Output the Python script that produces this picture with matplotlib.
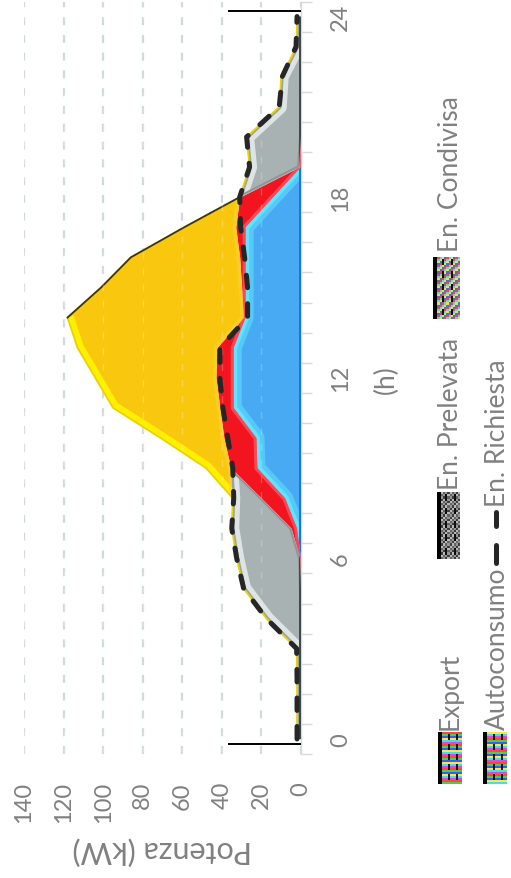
import numpy as np
import matplotlib
matplotlib.use("Agg")
import matplotlib.pyplot as plt

# ---- hourly profile (kW) ----
hours = list(range(25))
autoconsumo = [0, 0, 0, 0, 0, 0, 0, 2, 8, 22, 22.5, 34, 34, 34, 28, 28, 28, 28, 14, 0, 0, 0, 0, 0, 0]
condivisa = [0, 0, 0, 0, 0, 0, 0.5, 3, 12, 13.5, 16.5, 7, 9, 8.5, 1, 2, 3, 5, 17, 1, 0, 0, 0, 0, 0]
prelevata = [2, 2, 2, 2.2, 17.5, 29, 32, 30, 14.5, 0, 0, 0, 0, 0, 0, 0, 0, 0, 0, 25, 27.5, 11, 10, 2.2, 2]
export = [0, 0, 0, 0, 0, 0, 0, 0, 0, 12.5, 32, 54, 61, 70.5, 89, 71, 55, 26, 0, 0, 0, 0, 0, 0, 0]
richiesta = [2, 2, 2, 2.2, 17.5, 29, 32.5, 35, 34, 34.5, 37, 39.5, 41, 41, 27, 27, 28.5, 30.5, 31, 26, 27.5, 11, 9.5, 2.5, 2]

kw_ticks = [0, 20, 40, 60, 80, 100, 120, 140]
hour_ticks = [0, 6, 12, 18, 24]
legend_labels = ["Export", "En. Prelevata", "En. Condivisa", "Autoconsumo", "En. Richiesta"]

plt.rcParams['font.family'] = ['Lato', 'DejaVu Sans']
TXT = '#808080'

YELLOW = '#F9C80E'
YELLOW_HI = '#FFF000'
BLUE = '#48AAF2'
CYAN = '#62E4FF'
RED = '#F2141E'
GRAY = '#A9B2B2'

W, H = 511, 879
fig = plt.figure(figsize=(W / 100, H / 100), dpi=100)
fig.patch.set_facecolor('white')

ax = fig.add_axes([24 / W, 1 - 755 / H, (301 - 24) / W, (755 - 2.5) / H])
ax.set_xlim(140, 0)
ax.set_ylim(-0.5, 24.5)

h = np.array(hours, dtype=float)
b1 = np.array(autoconsumo, dtype=float)
b2 = b1 + np.array(condivisa)
b3 = b2 + np.array(prelevata)
b4 = b3 + np.array(export)

# stacked layers (kW grows to the left, hours run upward)
blue = ax.fill_betweenx(h, 0, b1, color=BLUE, lw=0, zorder=2)
red = ax.fill_betweenx(h, b1, b2, color=RED, lw=0, zorder=2)
gray = ax.fill_betweenx(h, b2, b3, color=GRAY, lw=0, zorder=2)
yellow = ax.fill_betweenx(h, b3, b4, color=YELLOW, lw=0, zorder=2)


def px(p):
    return p * 72 / 100


def bevel(xs, ys, coll, color, width, alpha=1.0, z=3):
    ln, = ax.plot(xs, ys, color=color, lw=px(width), alpha=alpha,
                  solid_capstyle='butt', solid_joinstyle='round', zorder=z)
    ln.set_clip_path(coll.get_paths()[0], ax.transData)


# bevel highlights inside each layer
bevel(b1, h, blue, CYAN, 16, alpha=0.55)
bevel(b1, h, blue, CYAN, 7)
bevel([0, 0], [-1, 25], blue, '#1F74D8', 5)
bevel(b1, h, red, '#FF5F72', 6, alpha=0.7)
bevel(b3, h, gray, '#E4EAEA', 15, alpha=0.9)
bevel(b3, h, gray, '#9AA3A3', 5)
bevel(b2, h, gray, '#8E9797', 4)
bevel([0, 0], [-1, 25], gray, '#3E4A4C', 5)
bevel(b4[8:15], h[8:15], yellow, YELLOW_HI, 13)
bevel(b3, h, yellow, '#FBD23A', 6, alpha=0.6)

# outline of the export layer
ax.plot(b4, h, color='#EDD000', lw=1.3, zorder=4)
ax.plot(b4[14:19], h[14:19], color='#3A3512', lw=1.3, zorder=4)

# faint grid showing through the fills
ax.vlines(kw_ticks[1:], -0.5, 24.5, colors='white', alpha=0.22, lw=1.0,
          linestyles=(0, (5, 6.5)), zorder=5)

# demand line
ax.plot(richiesta, h, color='#262626', lw=3.6, dashes=(2.5, 3.2),
        dash_capstyle='round', zorder=10)

# day boundary markers
ax.hlines([-0.17, 24.17], 0, 37, colors='black', lw=1.4, zorder=9)

# grid, spines, ticks
ax.set_axisbelow(True)
ax.set_xticks(kw_ticks)
ax.grid(axis='x', color='#CFDADB', lw=1.6, linestyle=(0, (3.6, 4.4)), zorder=0)
for s in ('left', 'top', 'bottom'):
    ax.spines[s].set_visible(False)
ax.spines['right'].set_color('#D9D9D9')
ax.spines['right'].set_linewidth(1.0)

ax.yaxis.tick_right()
ax.set_yticks(hour_ticks)
ax.set_yticks(np.arange(-0.5, 25, 1), minor=True)
ax.tick_params(axis='y', which='major', length=0, pad=21, labelsize=17,
               labelcolor=TXT, labelrotation=90)
ax.tick_params(axis='y', which='minor', length=8, width=1, color='#D9D9D9')
ax.tick_params(axis='x', which='both', length=0, pad=19.5, labelsize=17,
               labelcolor=TXT, labelrotation=90)
ax.set_yticklabels([str(v) for v in hour_ticks])
ax.set_xticklabels([str(v) for v in kw_ticks])
for t in ax.get_yticklabels():
    t.set_ha('left')
    t.set_va('center')

# overlay in pixel coordinates for titles and legend
lay = fig.add_axes([0, 0, 1, 1], zorder=20)
lay.set_xlim(0, W)
lay.set_ylim(H, 0)
lay.axis('off')

lay.text(162, 851, "Potenza (kW)", rotation=180, ha='center', va='center',
         fontsize=22, color=TXT)
lay.text(386, 380, "(h)", rotation=90, ha='center', va='center',
         fontsize=19, color=TXT)

# legend swatches (textured picture fills)
rainbow = np.array([[255, 70, 60], [70, 210, 70], [60, 90, 255],
                    [255, 230, 60], [60, 225, 235], [225, 70, 225]]) / 255.0


def stripes(rows, cols, shift):
    img = np.zeros((rows, cols, 3))
    for r in range(rows):
        img[r, :] = rainbow[(r + shift) % 6]
    img[:, :2] = 0
    for c in (5, 9):
        for r in range(rows):
            if r % 5 in (1, 2, 3):
                img[r, c] *= 0.15
    return img


def diagonal(rows, cols, base, dark):
    img = np.zeros((rows, cols, 3))
    for r in range(rows):
        for c in range(cols):
            k = (r + c) % 4
            img[r, c] = base[k]
    img[:, :2] = 0
    for c in (4, 8):
        for r in range(rows):
            if r % 6 in (1, 2, 3) and dark:
                img[r, c] *= 0.1
    return img


gray_cycle = np.array([[150, 150, 150], [60, 60, 60], [185, 185, 185], [100, 100, 100]]) / 255.0
col_cycle = np.array([[250, 220, 60], [60, 110, 240], [240, 70, 60], [80, 220, 230]]) / 255.0

lay.imshow(stripes(26, 12, 0), extent=(438, 462, 785, 733), interpolation='nearest', zorder=21)
lay.imshow(stripes(26, 12, 3), extent=(483, 507, 785, 733), interpolation='nearest', zorder=21)
lay.imshow(diagonal(30, 11, gray_cycle, True), extent=(437, 460, 560, 493), interpolation='nearest', zorder=21)
lay.imshow(diagonal(30, 12, col_cycle, True), extent=(433, 460, 320, 258), interpolation='nearest', zorder=21)
lay.set_xlim(0, W)
lay.set_ylim(H, 0)

# demand legend marker
lay.plot([496, 496], [513, 527], color='#262626', lw=px(5), solid_capstyle='round', zorder=21)
lay.plot([496, 496], [546, 564], color='#262626', lw=px(5), solid_capstyle='round', zorder=21)

leg_pos = [(458, 730), (458, 490), (458, 252), (505, 730), (505, 507)]
for (lx, ly), lab in zip(leg_pos, legend_labels):
    lay.text(lx, ly, lab, rotation=90, rotation_mode='anchor', ha='left',
             va='baseline', fontsize=19, color=TXT, zorder=22)

fig.savefig('out.png', dpi=100)
